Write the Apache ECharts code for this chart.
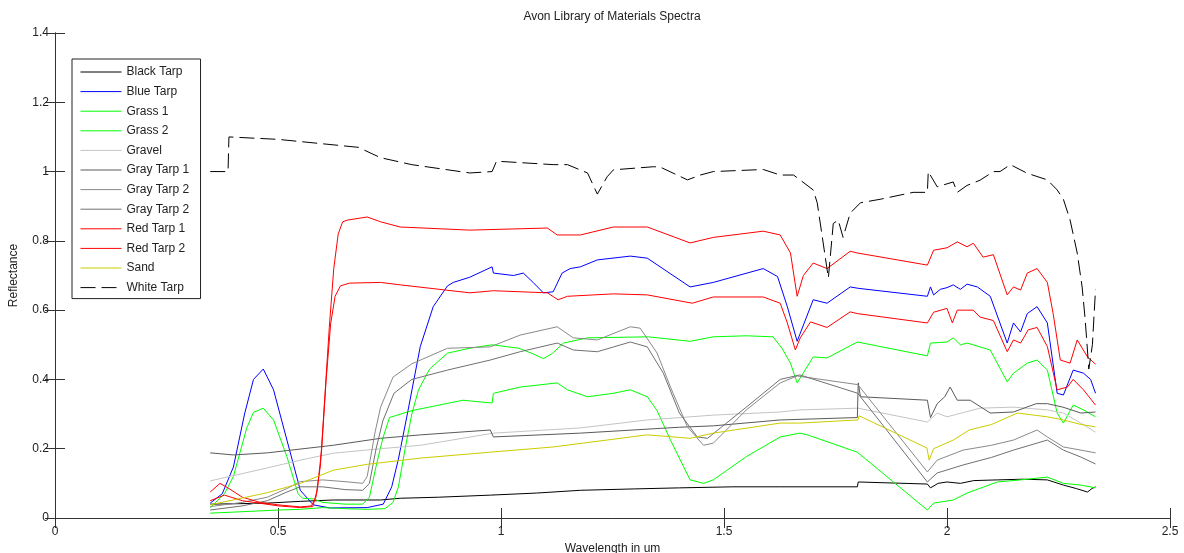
<!DOCTYPE html>
<html>
<head>
<meta charset="utf-8">
<title>Avon Library of Materials Spectra</title>
<script src="https://cdn.jsdelivr.net/npm/echarts@6/dist/echarts.min.js"></script>
<style>
  html, body { margin: 0; padding: 0; background: #fff; }
  #main { width: 1184px; height: 553px; }
</style>
</head>
<body>
<div id="main"></div>
<script>
// spectra, [wavelength um, reflectance]
const blackTarp = [[0.348,0.04],[0.40,0.041],[0.476,0.043],[0.55,0.048],[0.624,0.052],[0.73,0.052],[0.774,0.057],[0.86,0.06],[0.976,0.066],[1.08,0.072],[1.178,0.08],[1.3,0.084],[1.4,0.087],[1.52,0.09],[1.626,0.09],[1.799,0.09],[1.801,0.104],[1.956,0.098],[1.963,0.087],[1.98,0.1],[2.0,0.104],[2.03,0.1],[2.06,0.108],[2.113,0.11],[2.17,0.112],[2.225,0.11],[2.261,0.095],[2.29,0.085],[2.315,0.075],[2.325,0.085],[2.333,0.09]];
const blueTarp = [[0.348,0.043],[0.375,0.07],[0.4,0.147],[0.425,0.3],[0.445,0.4],[0.467,0.43],[0.49,0.37],[0.52,0.225],[0.55,0.08],[0.579,0.038],[0.617,0.029],[0.70,0.03],[0.736,0.04],[0.755,0.09],[0.77,0.17],[0.79,0.3],[0.819,0.495],[0.848,0.61],[0.88,0.67],[0.893,0.68],[0.93,0.695],[0.98,0.725],[0.983,0.707],[1.028,0.70],[1.05,0.707],[1.072,0.68],[1.095,0.65],[1.117,0.653],[1.137,0.707],[1.155,0.72],[1.178,0.725],[1.216,0.745],[1.29,0.756],[1.328,0.75],[1.424,0.667],[1.476,0.68],[1.588,0.72],[1.62,0.697],[1.642,0.61],[1.664,0.51],[1.7,0.63],[1.731,0.62],[1.783,0.667],[1.801,0.663],[1.956,0.64],[1.963,0.667],[1.97,0.644],[1.985,0.66],[2.0,0.665],[2.014,0.673],[2.03,0.66],[2.045,0.675],[2.068,0.667],[2.097,0.64],[2.135,0.505],[2.149,0.563],[2.165,0.537],[2.18,0.59],[2.202,0.61],[2.225,0.563],[2.247,0.36],[2.261,0.355],[2.283,0.427],[2.306,0.418],[2.322,0.4],[2.333,0.36]];
const grass1 = [[0.348,0.014],[0.4,0.017],[0.45,0.02],[0.5,0.023],[0.55,0.025],[0.6,0.03],[0.65,0.027],[0.7,0.025],[0.74,0.027],[0.758,0.045],[0.77,0.09],[0.785,0.2],[0.8,0.3],[0.815,0.37],[0.84,0.43],[0.88,0.476],[0.93,0.49],[0.98,0.5],[1.04,0.49],[1.07,0.475],[1.095,0.46],[1.115,0.475],[1.14,0.505],[1.194,0.52],[1.33,0.523],[1.424,0.51],[1.476,0.523],[1.55,0.526],[1.61,0.523],[1.63,0.49],[1.649,0.447],[1.664,0.39],[1.7,0.465],[1.731,0.462],[1.799,0.508],[1.956,0.468],[1.963,0.505],[2.0,0.508],[2.014,0.52],[2.03,0.5],[2.045,0.505],[2.097,0.485],[2.135,0.393],[2.149,0.418],[2.18,0.447],[2.202,0.456],[2.225,0.427],[2.247,0.303],[2.261,0.274],[2.283,0.326],[2.306,0.312],[2.333,0.292]];
const grass2 = [[0.348,0.03],[0.38,0.07],[0.4,0.12],[0.43,0.26],[0.445,0.305],[0.467,0.317],[0.49,0.283],[0.52,0.177],[0.545,0.07],[0.555,0.057],[0.58,0.055],[0.6,0.045],[0.65,0.04],[0.69,0.04],[0.705,0.06],[0.72,0.15],[0.735,0.23],[0.75,0.29],[0.8,0.31],[0.915,0.34],[0.953,0.335],[0.98,0.332],[0.983,0.36],[1.043,0.378],[1.126,0.39],[1.149,0.37],[1.194,0.35],[1.252,0.36],[1.29,0.37],[1.328,0.35],[1.35,0.31],[1.38,0.225],[1.424,0.11],[1.454,0.1],[1.476,0.11],[1.55,0.177],[1.626,0.234],[1.67,0.245],[1.687,0.24],[1.799,0.19],[1.956,0.023],[1.97,0.043],[2.014,0.052],[2.045,0.072],[2.113,0.104],[2.165,0.11],[2.225,0.118],[2.261,0.1],[2.3,0.095],[2.333,0.087]];
const gravel = [[0.348,0.107],[0.474,0.144],[0.55,0.167],[0.624,0.187],[0.73,0.2],[0.82,0.21],[0.983,0.245],[1.178,0.26],[1.328,0.283],[1.476,0.297],[1.626,0.306],[1.67,0.312],[1.8,0.317],[1.956,0.277],[1.978,0.303],[2.0,0.292],[2.074,0.317],[2.149,0.32],[2.225,0.312],[2.261,0.303],[2.3,0.274],[2.333,0.248]];
const grayTarp1 = [[0.348,0.188],[0.4,0.182],[0.476,0.188],[0.624,0.21],[0.73,0.23],[0.82,0.24],[0.976,0.254],[0.983,0.234],[1.178,0.245],[1.4,0.262],[1.476,0.266],[1.626,0.283],[1.799,0.29],[1.801,0.39],[1.806,0.35],[1.956,0.34],[1.963,0.29],[1.978,0.33],[1.995,0.35],[2.007,0.378],[2.023,0.34],[2.052,0.34],[2.097,0.303],[2.149,0.306],[2.2,0.33],[2.225,0.33],[2.26,0.32],[2.3,0.303],[2.333,0.306]];
const grayTarp2a = [[0.348,0.033],[0.42,0.045],[0.476,0.06],[0.52,0.085],[0.55,0.105],[0.6,0.11],[0.65,0.105],[0.69,0.1],[0.7,0.12],[0.718,0.25],[0.73,0.32],[0.758,0.407],[0.8,0.445],[0.88,0.49],[0.976,0.494],[1.043,0.528],[1.126,0.552],[1.162,0.52],[1.216,0.514],[1.29,0.552],[1.312,0.548],[1.35,0.476],[1.38,0.378],[1.418,0.263],[1.454,0.21],[1.476,0.216],[1.55,0.312],[1.626,0.39],[1.664,0.41],[1.8,0.385],[1.956,0.133],[1.978,0.167],[2.036,0.196],[2.1,0.21],[2.149,0.225],[2.202,0.254],[2.225,0.234],[2.261,0.205],[2.3,0.196],[2.333,0.188]];
const grayTarp2b = [[0.348,0.023],[0.42,0.035],[0.476,0.05],[0.52,0.075],[0.55,0.09],[0.6,0.09],[0.65,0.082],[0.69,0.08],[0.705,0.1],[0.72,0.2],[0.735,0.28],[0.76,0.36],[0.8,0.4],[0.88,0.427],[0.976,0.456],[1.043,0.48],[1.126,0.505],[1.162,0.485],[1.216,0.48],[1.29,0.508],[1.328,0.494],[1.364,0.418],[1.4,0.303],[1.44,0.234],[1.463,0.23],[1.55,0.32],[1.626,0.4],[1.67,0.413],[1.8,0.36],[1.956,0.104],[1.978,0.13],[2.036,0.153],[2.1,0.175],[2.149,0.196],[2.225,0.225],[2.261,0.196],[2.3,0.176],[2.333,0.156]];
const redTarp1 = [[0.348,0.075],[0.37,0.1],[0.39,0.085],[0.42,0.06],[0.46,0.045],[0.5,0.038],[0.55,0.032],[0.575,0.035],[0.585,0.06],[0.595,0.15],[0.605,0.35],[0.615,0.55],[0.625,0.72],[0.635,0.82],[0.645,0.855],[0.656,0.86],[0.70,0.869],[0.73,0.855],[0.774,0.84],[0.93,0.831],[1.104,0.837],[1.126,0.817],[1.178,0.817],[1.252,0.84],[1.328,0.84],[1.424,0.794],[1.476,0.81],[1.588,0.828],[1.626,0.817],[1.649,0.765],[1.664,0.64],[1.678,0.70],[1.7,0.736],[1.731,0.72],[1.783,0.77],[1.799,0.765],[1.956,0.73],[1.97,0.773],[2.0,0.78],[2.023,0.797],[2.045,0.783],[2.059,0.793],[2.081,0.753],[2.104,0.76],[2.135,0.644],[2.149,0.667],[2.165,0.658],[2.18,0.707],[2.202,0.72],[2.225,0.68],[2.238,0.59],[2.254,0.456],[2.276,0.447],[2.292,0.514],[2.315,0.465],[2.333,0.444]];
const redTarp2 = [[0.348,0.05],[0.38,0.066],[0.42,0.05],[0.5,0.035],[0.55,0.03],[0.578,0.033],[0.588,0.08],[0.598,0.2],[0.608,0.4],[0.618,0.56],[0.628,0.64],[0.64,0.67],[0.66,0.678],[0.73,0.68],[0.774,0.673],[0.93,0.65],[0.983,0.656],[1.104,0.65],[1.128,0.63],[1.149,0.64],[1.252,0.647],[1.328,0.644],[1.429,0.62],[1.476,0.638],[1.588,0.638],[1.626,0.62],[1.642,0.563],[1.66,0.485],[1.671,0.52],[1.694,0.566],[1.731,0.55],[1.783,0.595],[1.799,0.59],[1.956,0.563],[1.97,0.594],[2.0,0.605],[2.012,0.563],[2.023,0.6],[2.059,0.6],[2.074,0.58],[2.104,0.57],[2.135,0.48],[2.149,0.514],[2.165,0.505],[2.182,0.543],[2.202,0.55],[2.225,0.495],[2.247,0.37],[2.27,0.378],[2.283,0.4],[2.306,0.37],[2.333,0.326]];
const sand = [[0.348,0.038],[0.476,0.073],[0.55,0.1],[0.624,0.138],[0.7,0.155],[0.82,0.173],[0.976,0.19],[1.117,0.205],[1.328,0.24],[1.424,0.23],[1.476,0.245],[1.626,0.274],[1.67,0.274],[1.8,0.283],[1.803,0.295],[1.955,0.202],[1.96,0.167],[1.97,0.2],[2.014,0.225],[2.05,0.254],[2.1,0.27],[2.158,0.303],[2.225,0.292],[2.261,0.283],[2.3,0.27],[2.333,0.263]];
const whiteTarp = [[0.348,1.0],[0.388,1.0],[0.39,1.1],[0.5,1.093],[0.68,1.07],[0.73,1.04],[0.8,1.02],[0.93,0.996],[0.98,1.0],[0.99,1.03],[1.117,1.02],[1.149,1.02],[1.194,0.996],[1.216,0.935],[1.238,0.985],[1.252,1.005],[1.342,1.014],[1.357,1.013],[1.418,0.976],[1.447,0.99],[1.476,1.0],[1.588,1.006],[1.626,0.99],[1.656,0.99],[1.7,0.947],[1.709,0.91],[1.734,0.693],[1.745,0.85],[1.756,0.86],[1.767,0.81],[1.783,0.88],[1.806,0.91],[1.85,0.92],[1.924,0.94],[1.956,0.94],[1.958,1.0],[1.978,0.956],[2.014,0.97],[2.023,0.94],[2.045,0.96],[2.074,0.975],[2.104,1.0],[2.119,1.0],[2.142,1.02],[2.18,0.995],[2.225,0.976],[2.247,0.947],[2.261,0.92],[2.276,0.86],[2.292,0.765],[2.303,0.667],[2.31,0.57],[2.318,0.43],[2.326,0.5],[2.333,0.66]];

const seriesNames = ['Black Tarp', 'Blue Tarp', 'Grass 1', 'Grass 2', 'Gravel', 'Gray Tarp 1', 'Gray Tarp 2', 'Gray Tarp 2 ', 'Red Tarp 1', 'Red Tarp 2', 'Sand', 'White Tarp'];
const seriesData = [blackTarp, blueTarp, grass1, grass2, gravel, grayTarp1, grayTarp2a, grayTarp2b, redTarp1, redTarp2, sand, whiteTarp];
const seriesColors = ['#000000', '#0000ff', '#00ff00', '#00ff00', '#c4c4c4', '#5a5a5a', '#8a8a8a', '#707070', '#ff0000', '#ff0000', '#cccc00', '#000000'];

const xTicks = { min: 0, max: 2.5, interval: 0.5 };
const yTicks = { min: 0, max: 1.4, interval: 0.2 };

const font = 'Liberation Sans, Arial, sans-serif';
const axisColor = '#333';

const chart = echarts.init(document.getElementById('main'));

const series = seriesNames.map((name, i) => ({
    name: name,
    type: 'line',
    data: seriesData[i],
    symbol: 'none',
    smooth: false,
    color: seriesColors[i],
    lineStyle: {
        width: 1,
        color: seriesColors[i],
        type: name === 'White Tarp' ? [15, 6] : 'solid'
    },
    emphasis: { disabled: true }
}));

const option = {
    animation: false,
    backgroundColor: '#fff',
    title: {
        text: 'Avon Library of Materials Spectra',
        left: 612,
        top: 11,
        padding: 0,
        textAlign: 'center',
        textStyle: { fontSize: 12, fontWeight: 'normal', color: '#222', fontFamily: font }
    },
    legend: {
        data: seriesNames,
        orient: 'vertical',
        left: 72,
        top: 59,
        padding: [7, 8, 5, 8],
        itemWidth: 41,
        itemHeight: 14,
        itemGap: 7.6,
        // hide the marker dot, keep only the line sample
        itemStyle: { opacity: 0 },
        lineStyle: { width: 1 },
        backgroundColor: '#fff',
        borderColor: '#222',
        borderWidth: 1,
        selectedMode: false,
        textStyle: { fontSize: 12, color: '#222', fontFamily: font }
    },
    grid: { left: 55, right: 14, top: 33, bottom: 35, containLabel: false, outerBoundsMode: 'none' },
    xAxis: [
        {
            type: 'value',
            min: xTicks.min, max: xTicks.max, interval: xTicks.interval,
            name: 'Wavelength in um',
            nameLocation: 'middle',
            nameGap: 23,
            nameTextStyle: { fontSize: 12, color: '#222', fontFamily: font },
            axisLine: { lineStyle: { color: axisColor } },
            axisTick: { inside: true, length: 10, lineStyle: { color: axisColor } },
            axisLabel: { margin: 8, fontSize: 12, color: '#222', fontFamily: font },
            splitLine: { show: false }
        },
        {
            type: 'value',
            position: 'top',
            min: xTicks.min, max: xTicks.max, interval: xTicks.interval,
            axisLine: { lineStyle: { color: axisColor } },
            axisTick: { inside: true, length: 10, lineStyle: { color: axisColor } },
            axisLabel: { show: false },
            splitLine: { show: false }
        }
    ],
    yAxis: [
        {
            type: 'value',
            min: yTicks.min, max: yTicks.max, interval: yTicks.interval,
            name: 'Reflectance',
            nameLocation: 'middle',
            nameGap: 35,
            nameTextStyle: { fontSize: 12, color: '#222', fontFamily: font },
            axisLine: { show: true, lineStyle: { color: axisColor } },
            axisTick: { show: true, inside: true, length: 10, lineStyle: { color: axisColor } },
            axisLabel: { margin: 6, fontSize: 12, color: '#222', fontFamily: font },
            splitLine: { show: false }
        },
        {
            type: 'value',
            position: 'right',
            min: yTicks.min, max: yTicks.max, interval: yTicks.interval,
            axisLine: { show: true, lineStyle: { color: axisColor } },
            axisTick: { show: true, inside: true, length: 10, lineStyle: { color: axisColor } },
            axisLabel: { show: false },
            splitLine: { show: false }
        }
    ],
    series: series
};

chart.setOption(option);
</script>
</body>
</html>
